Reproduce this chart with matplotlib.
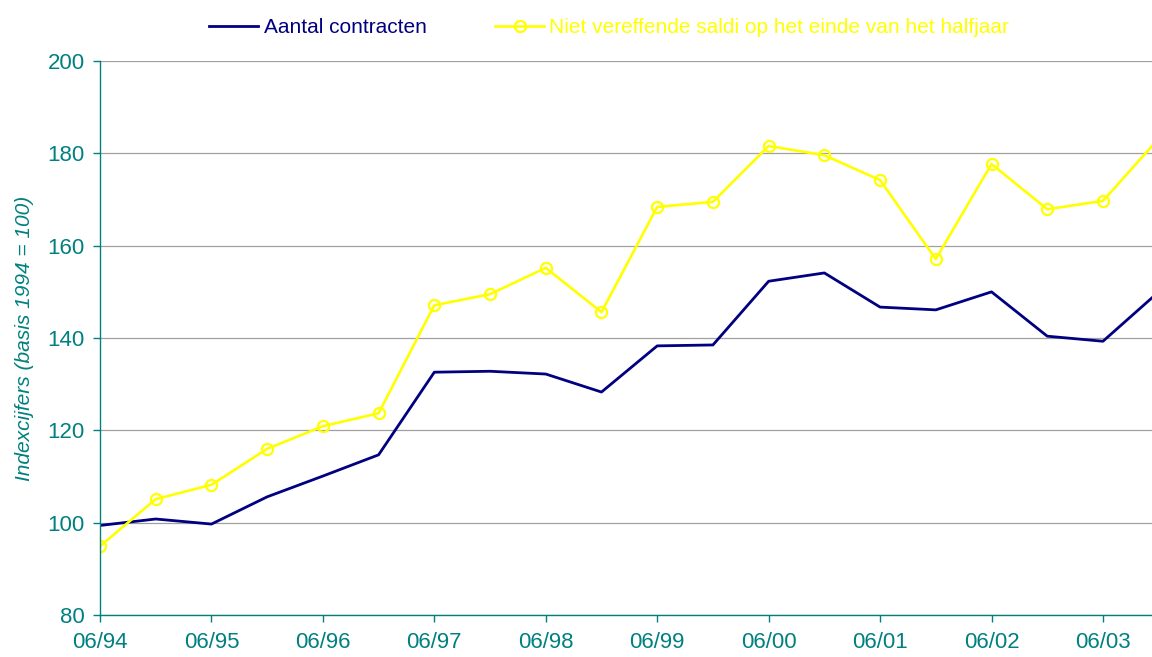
import matplotlib.pyplot as plt

plt.rcParams['font.family'] = ['Liberation Sans', 'DejaVu Sans']

# half-year periods, 06/94 .. 12/03
periods = list(range(20))
year_ticks = list(range(0, 20, 2))
year_labels = ['06/94', '06/95', '06/96', '06/97', '06/98',
               '06/99', '06/00', '06/01', '06/02', '06/03']

contracten = [99.4, 100.8, 99.7, 105.6, 110.1, 114.7, 132.6, 132.8, 132.2, 128.3,
              138.3, 138.5, 152.3, 154.1, 146.7, 146.1, 150.0, 140.4, 139.3, 150.0]
saldi = [94.9, 105.1, 108.2, 116.0, 120.9, 123.7, 147.1, 149.5, 155.2, 145.6,
         168.4, 169.5, 181.6, 179.6, 174.2, 157.1, 177.7, 167.9, 169.7, 183.2]

teal = '#008080'

fig = plt.figure(figsize=(11.52, 6.57), dpi=100, facecolor='white')
ax = fig.add_axes([0.0868, 0.0639, 0.9132, 0.8432])

ax.plot(periods, contracten, color='#000080', linewidth=2.0, label='Aantal contracten')
ax.plot(periods, saldi, color='#ffff00', linewidth=1.9, marker='o', markersize=8,
        markerfacecolor='none', markeredgewidth=1.6,
        label='Niet vereffende saldi op het einde van het halfjaar')

ax.set_xlim(0, 18.88)
ax.set_ylim(80, 200)
ax.set_yticks(range(80, 201, 20))
ax.set_xticks(year_ticks)
ax.set_xticklabels(year_labels)

ax.grid(axis='y', color='#a0a0a0', linewidth=0.9)
ax.set_axisbelow(True)

for side in ['top', 'right']:
    ax.spines[side].set_visible(False)
for side in ['left', 'bottom']:
    ax.spines[side].set_color(teal)
    ax.spines[side].set_linewidth(1.0)

ax.tick_params(axis='both', colors=teal, labelsize=16, direction='out', length=5, width=1)
ax.tick_params(axis='x', pad=7)
ax.tick_params(axis='y', pad=6)

ax.set_ylabel('Indexcijfers (basis 1994 = 100)', fontsize=15, style='italic',
              color=teal, labelpad=10)

leg = fig.legend(loc='center', bbox_to_anchor=(0.529, 0.958), ncol=2, frameon=False,
                 fontsize=15, handlelength=2.35, columnspacing=3.3, handletextpad=0.25)
for text, line in zip(leg.get_texts(), leg.get_lines()):
    text.set_color(line.get_color())

fig.savefig('out.png', dpi=100)
